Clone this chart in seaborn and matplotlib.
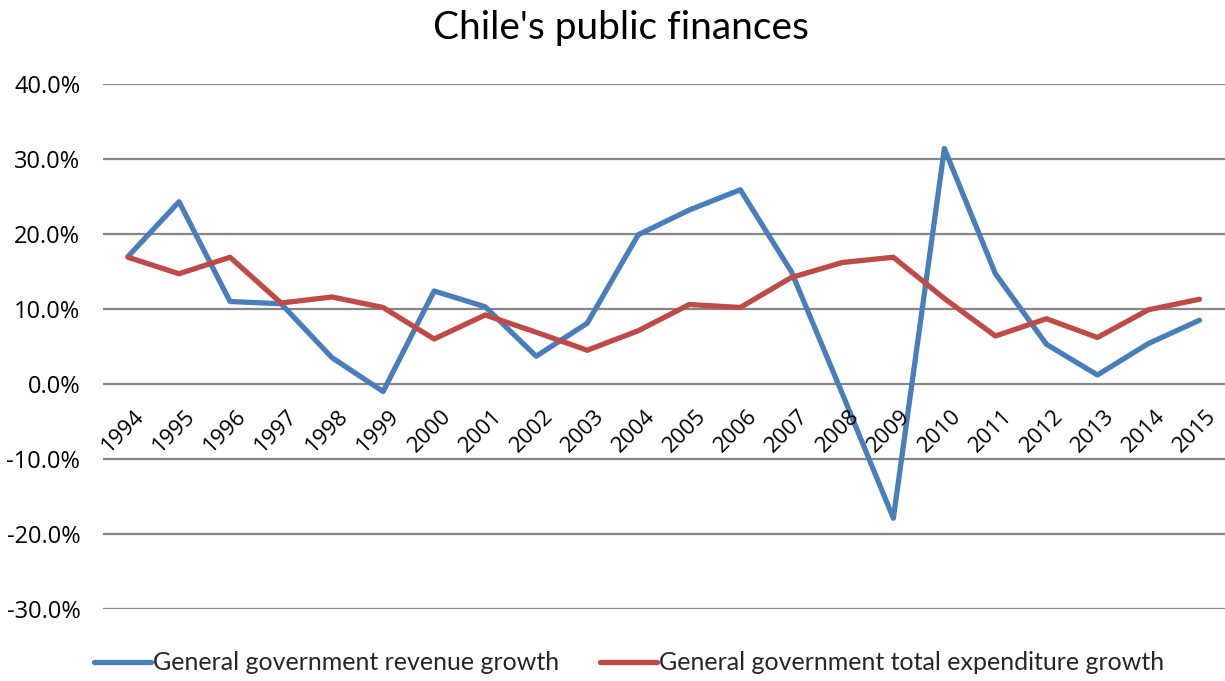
import matplotlib
matplotlib.use("Agg")
import matplotlib.pyplot as plt
import matplotlib.transforms as mtransforms
from matplotlib.ticker import FuncFormatter, FixedLocator
import seaborn as sns
import pandas as pd

years = [1994, 1995, 1996, 1997, 1998, 1999, 2000, 2001, 2002, 2003, 2004,
         2005, 2006, 2007, 2008, 2009, 2010, 2011, 2012, 2013, 2014, 2015]
revenue_growth = [17.0, 24.3, 11.0, 10.7, 3.5, -1.0, 12.4, 10.3, 3.7, 8.1, 19.9,
                  23.2, 25.9, 15.0, -1.3, -17.9, 31.4, 14.7, 5.3, 1.2, 5.4, 8.5]
expenditure_growth = [16.9, 14.7, 16.9, 10.8, 11.6, 10.2, 6.0, 9.2, 6.9, 4.5, 7.1,
                      10.6, 10.2, 14.2, 16.2, 16.9, 11.4, 6.4, 8.7, 6.2, 9.9, 11.3]
series_names = ["General government revenue growth",
                "General government total expenditure growth"]
y_ticks = [-30, -20, -10, 0, 10, 20, 30, 40]
title = "Chile's public finances"

sns.set_theme(style="white")
plt.rcParams["font.family"] = ["Open Sans", "DejaVu Sans"]

n = len(years)
df = pd.DataFrame({
    "pos": list(range(n)) * 2,
    "value": revenue_growth + expenditure_growth,
    "series": [series_names[0]] * n + [series_names[1]] * n,
})

fig = plt.figure(figsize=(12.25, 6.81), dpi=100)
ax = fig.add_axes([102.5 / 1225, 1 - 609 / 681, 1 - 102.5 / 1225, (609 - 84) / 681])

palette = {series_names[0]: "#4A7EBB", series_names[1]: "#BE4B48"}
sns.lineplot(data=df, x="pos", y="value", hue="series", palette=palette,
             linewidth=3.8, ax=ax, legend=False, sort=False)

ax.set_xlim(-0.5, n - 0.5)
ax.set_ylim(y_ticks[0], y_ticks[-1])
ax.yaxis.set_major_locator(FixedLocator(y_ticks))
ax.yaxis.set_major_formatter(FuncFormatter(lambda v, p: f"{v:.1f}%"))
ax.tick_params(axis="y", length=0, pad=16, labelsize=17, labelcolor="black")
ax.set_xticks([])
ax.grid(axis="y", color="#868686", linewidth=1.6)
ax.set_axisbelow(True)
for s in ax.spines.values():
    s.set_visible(False)
ax.set_xlabel("")
ax.set_ylabel("")

# category labels sitting along the 0% line, rotated
off = mtransforms.offset_copy(ax.transData, fig=fig, x=6, y=-22, units="dots")
for i, yr in enumerate(years):
    ax.text(i, 0, str(yr), transform=off, rotation=45, rotation_mode="anchor",
            ha="right", va="top", fontsize=16, color="black")

fig.text(621 / 1225, 1 - 28 / 681, title, ha="center", va="center",
         family=["Lato", "DejaVu Sans"], fontsize=28, color="black")

handles = [plt.Line2D([], [], color=palette[s], linewidth=3.8) for s in series_names]
fig.legend(handles, series_names, loc="center", bbox_to_anchor=(629 / 1225, 1 - 663 / 681),
           ncol=2, frameon=False, handlelength=2.28, handletextpad=0.08,
           columnspacing=1.6, borderpad=0.2,
           prop={"family": ["Lato", "DejaVu Sans"], "size": 18})

fig.savefig("out.png", dpi=100)
